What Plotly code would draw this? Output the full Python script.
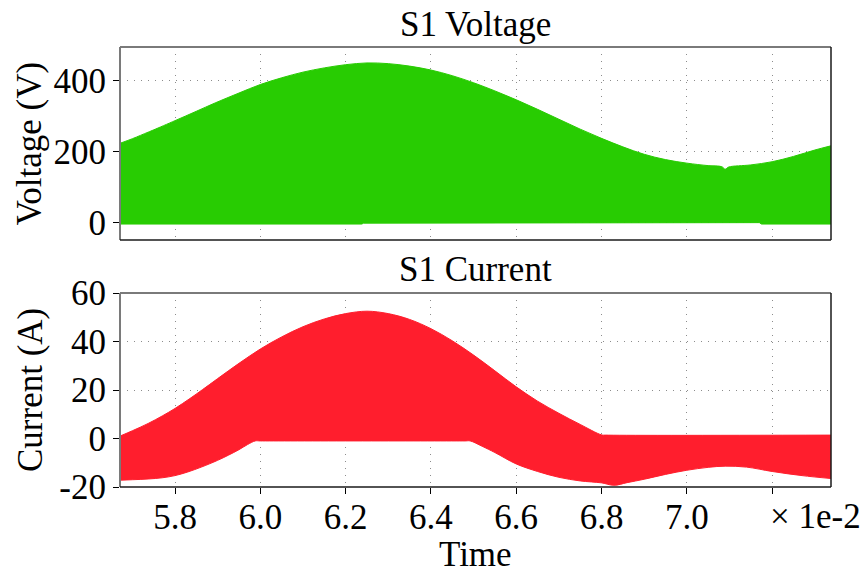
import plotly.graph_objects as go

# ---------------- data (time in units of 1e-2 s) ----------------
volt_hi_t = [5.671, 5.70, 5.737, 5.75, 5.80, 5.85, 5.894, 5.95, 6.00, 6.05, 6.10, 6.15,
             6.20, 6.25, 6.30, 6.35, 6.40, 6.45, 6.50, 6.55, 6.60, 6.65, 6.70, 6.75,
             6.80, 6.85, 6.90, 6.95, 7.00, 7.05, 7.082, 7.09, 7.098, 7.15, 7.20, 7.25,
             7.30, 7.338]
volt_hi_v = [224, 237, 255.5, 262, 288, 314.5, 338, 366, 390, 409, 425, 437,
             446, 451, 449, 442, 431, 415, 395, 372, 347, 320, 292, 264,
             238, 214, 193, 178, 168, 161, 158, 151, 157, 163, 172, 187,
             205, 217]

volt_lo_t = [5.671, 6.238, 6.242, 6.798, 6.802, 7.17, 7.175, 7.338]
volt_lo_v = [-4, -4, -1.5, -1.5, 0, 0, -4, -4]

curr_hi_t = [5.671, 5.70, 5.737, 5.77, 5.80, 5.835, 5.864, 5.90, 5.95, 6.00, 6.05, 6.10,
             6.15, 6.20, 6.25, 6.30, 6.35, 6.40, 6.45, 6.50, 6.55, 6.60, 6.65, 6.70,
             6.75, 6.80, 6.81, 7.338]
curr_hi_v = [1.0, 3.2, 6.2, 9.3, 12.4, 16.5, 20.1, 24.7, 31.0, 36.9, 41.9, 46.1,
             49.3, 51.5, 52.5, 51.5, 49.1, 45.3, 40.3, 34.4, 27.9, 21.3, 15.4, 10.4,
             5.8, 1.5, 1.4, 1.4]

curr_lo_t = [5.671, 5.70, 5.737, 5.77, 5.80, 5.83, 5.863, 5.90, 5.925, 5.95, 5.97, 5.988,
             6.0, 6.48, 6.492, 6.52, 6.55, 6.60, 6.65, 6.70, 6.75, 6.80, 6.829, 6.86, 6.90,
             6.95, 7.00, 7.05, 7.09, 7.14, 7.20, 7.27, 7.338]
curr_lo_v = [-17.2, -17.0, -16.7, -16.2, -15.3, -13.8, -11.7, -9.0, -6.9, -4.6, -2.5, -1.0,
             -1.0, -1.0, -1.0, -3.2, -5.8, -10.5, -13.6, -16.0, -17.5, -18.3, -19.3, -18.2,
             -16.8, -14.8, -13.1, -11.9, -11.4, -11.8, -13.6, -15.3, -16.5]

x_ticks = [5.8, 6.0, 6.2, 6.4, 6.6, 6.8, 7.0, 7.2]
x_ticktext = ["5.8", "6.0", "6.2", "6.4", "6.6", "6.8", "7.0", ""]
v_ticks = [0, 200, 400]
v_ticktext = ["0", "200", "400"]
i_ticks = [-20, 0, 20, 40, 60]
i_ticktext = ["-20", "0", "20", "40", "60"]

GREEN = "rgb(40,204,2)"
RED = "rgb(255,30,45)"
FONT = "Liberation Serif"
FS = 35

fig = go.Figure()

# voltage: lower edge, then upper edge filled down to it
fig.add_trace(go.Scatter(x=volt_lo_t, y=volt_lo_v, mode="lines",
                         line=dict(color=GREEN, width=1), xaxis="x", yaxis="y",
                         showlegend=False, hoverinfo="skip"))
fig.add_trace(go.Scatter(x=volt_hi_t, y=volt_hi_v, mode="lines", fill="tonexty",
                         fillcolor=GREEN, line=dict(color=GREEN, width=1, shape="spline",
                                                    smoothing=1.0),
                         xaxis="x", yaxis="y", showlegend=False, hoverinfo="skip"))
# current
fig.add_trace(go.Scatter(x=curr_lo_t, y=curr_lo_v, mode="lines",
                         line=dict(color=RED, width=1, shape="spline", smoothing=1.0),
                         xaxis="x2", yaxis="y2", showlegend=False, hoverinfo="skip"))
fig.add_trace(go.Scatter(x=curr_hi_t, y=curr_hi_v, mode="lines", fill="tonexty",
                         fillcolor=RED, line=dict(color=RED, width=1, shape="spline",
                                                  smoothing=1.0),
                         xaxis="x2", yaxis="y2", showlegend=False, hoverinfo="skip"))

XR = [5.671, 7.338]
grid = dict(showgrid=True, gridcolor="#8c8c8c", griddash="1px,6px", gridwidth=1, zeroline=False,
            showline=False)
tickfont = dict(family=FONT, size=FS, color="black")

fig.update_layout(
    width=864, height=574,
    margin=dict(l=120, r=33, t=47, b=87),
    paper_bgcolor="white", plot_bgcolor="white",
    font=dict(family=FONT, size=FS, color="black"),
    xaxis=dict(domain=[0, 1], range=XR, anchor="y", tickvals=x_ticks, showticklabels=False,
               ticks="", **grid),
    yaxis=dict(domain=[0.5614, 1], range=[-49, 496], anchor="x", tickvals=v_ticks,
               ticktext=v_ticktext, ticks="outside", ticklen=6, tickcolor="black",
               tickfont=tickfont, **grid),
    xaxis2=dict(domain=[0, 1], range=XR, anchor="y2", tickvals=x_ticks, ticktext=x_ticktext,
                ticks="outside", ticklen=6, tickcolor="black", tickfont=tickfont,
                ticklabelstandoff=-7, **grid),
    yaxis2=dict(domain=[0, 0.4409], range=[-20, 60], anchor="x2", tickvals=i_ticks,
                ticktext=i_ticktext, ticks="outside", ticklen=6, tickcolor="black",
                tickfont=tickfont, **grid),
)

# frames
for xa, ya in (("x", "y"), ("x2", "y2")):
    xd, yd = xa + " domain", ya + " domain"
    fig.add_shape(type="line", xref=xd, yref=yd, x0=0, x1=1, y0=1, y1=1,
                  line=dict(color="#7a7a7a", width=2), layer="above")
    fig.add_shape(type="line", xref=xd, yref=yd, x0=0, x1=0, y0=0, y1=1,
                  line=dict(color="#7a7a7a", width=2), layer="above")
    fig.add_shape(type="line", xref=xd, yref=yd, x0=1, x1=1, y0=0, y1=1,
                  line=dict(color="#1a1a1a", width=1.5), layer="above")
    fig.add_shape(type="line", xref=xd, yref=yd, x0=0, x1=1, y0=0, y1=0,
                  line=dict(color="#1a1a1a", width=1.5), layer="above")

ann = dict(showarrow=False, font=dict(family=FONT, size=FS, color="black"))
fig.add_annotation(text="S1 Voltage", xref="paper", yref="paper", x=0.5, y=1.05,
                   xanchor="center", yanchor="middle", **ann)
fig.add_annotation(text="S1 Current", xref="paper", yref="paper", x=0.5, y=0.4932,
                   xanchor="center", yanchor="middle", **ann)
fig.add_annotation(text="Voltage (V)", xref="paper", yref="paper", x=-0.1266,
                   y=(487 - 143.5) / 440, textangle=-90, xanchor="center", yanchor="middle", **ann)
fig.add_annotation(text="Current (A)", xref="paper", yref="paper", x=-0.1266,
                   y=(487 - 390) / 440, textangle=-90, xanchor="center", yanchor="middle", **ann)
fig.add_annotation(text="Time", xref="paper", yref="paper", x=0.5, y=-0.1545,
                   xanchor="center", yanchor="middle", **ann)
fig.add_annotation(text="× 1e-2", xref="x2", yref="paper", x=7.2, y=-0.068,
                   xanchor="left", yanchor="middle", xshift=-4, **ann)

fig.write_html("out.html")
